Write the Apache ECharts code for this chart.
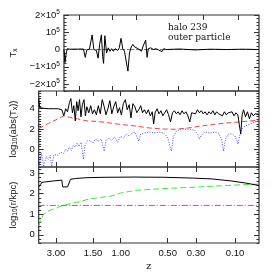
<!DOCTYPE html>
<html><head><meta charset="utf-8">
<script src="https://cdn.jsdelivr.net/npm/echarts@6/dist/echarts.min.js"></script>
<style>html,body{margin:0;padding:0;background:#fff}#c{width:274px;height:274px}</style>
</head><body><div id="c"></div><script>
// x values: cosmic time (Gyr); tick labels in redshift z
const zTickLabels = ['3.00','1.50','1.00','0.50','0.30','0.10'];
const zTickTimes = [2.11, 4.20, 5.76, 8.41, 10.01, 12.21];

// Top panel: T_x
const txBlack = [[1.14,0],[1.20,-0.75e5],[1.28,-0.2e5],[1.35,0.05e5],[1.5,0.02e5],[2.38,0.03e5],[2.49,-0.45e5],[2.60,0],[2.76,0.02e5],[2.93,0.85e5],[3.04,0],[3.20,-0.05e5],[3.31,-0.5e5],[3.41,0.3e5],[3.52,0.85e5],[3.60,-0.4e5],[3.66,-0.8e5],[3.74,0.8e5],[3.85,-0.2e5],[3.96,0.1e5],[4.07,-0.1e5],[4.17,0.05e5],[4.28,-0.1e5],[4.39,0.05e5],[4.55,-0.05e5],[4.66,0.1e5],[4.77,0.65e5],[4.88,0.05e5],[4.99,-0.1e5],[5.10,0],[5.21,-1.25e5],[5.31,-0.2e5],[5.42,0.15e5],[5.53,0.3e5],[5.64,0.15e5],[5.75,0.25e5],[5.86,0.05e5],[5.97,0.15e5],[6.07,-0.1e5],[6.18,0.2e5],[6.29,0.1e5],[6.34,0.55e5],[6.43,-0.45e5],[6.51,0.05e5],[6.67,0.1e5],[6.83,0],[6.99,0.05e5],[7.16,-0.02e5],[7.27,0.08e5],[7.38,-0.12e5],[7.49,0.05e5],[7.65,0],[8.5,0.03e5],[9.5,-0.02e5],[10.5,0.02e5],[11.5,0],[12.5,0.02e5],[13.56,0]];
const txRed = [[1.14,0],[13.56,0]];
const txBlue = [[1.14,0],[13.56,0]];

// Middle panel: log10(abs(T_x))
const logTxBlack = [[1.14,5.0],[1.19,4.1],[1.41,4.05],[1.68,4.0],[1.95,4.0],[2.22,4.0],[2.44,3.9],[2.55,3.3],[2.66,4.0],[2.76,3.7],[2.87,4.6],[2.95,5.0],[3.04,3.6],[3.12,4.3],[3.20,2.8],[3.28,4.7],[3.36,3.8],[3.44,4.9],[3.52,3.2],[3.60,4.4],[3.69,4.9],[3.77,3.3],[3.85,4.2],[3.96,3.6],[4.07,4.3],[4.17,3.5],[4.28,3.9],[4.39,3.4],[4.50,4.3],[4.61,3.5],[4.72,4.9],[4.83,4.2],[4.93,3.4],[5.04,4.0],[5.15,4.8],[5.26,3.5],[5.37,4.2],[5.48,4.7],[5.59,3.6],[5.69,4.1],[5.80,3.4],[5.91,4.5],[6.02,4.9],[6.13,3.9],[6.24,4.4],[6.34,3.1],[6.45,4.5],[6.56,4.2],[6.67,3.6],[6.78,3.9],[6.89,4.3],[6.99,3.6],[7.10,3.9],[7.21,3.5],[7.32,3.9],[7.43,3.3],[7.54,3.7],[7.62,2.5],[7.70,3.6],[7.81,4.0],[7.92,3.5],[8.03,3.8],[8.14,3.3],[8.24,3.6],[8.35,3.9],[8.46,3.4],[8.57,2.7],[8.68,3.6],[8.79,3.8],[8.90,3.5],[9.00,3.7],[9.11,3.4],[9.22,3.8],[9.33,3.5],[9.44,3.7],[9.55,3.3],[9.66,2.7],[9.76,3.6],[9.87,3.7],[9.98,3.5],[10.09,3.9],[10.20,3.6],[10.31,3.8],[10.41,3.5],[10.52,3.7],[10.63,3.4],[10.74,3.7],[10.85,3.5],[10.96,3.8],[11.07,3.4],[11.17,3.7],[11.28,3.5],[11.39,3.6],[11.50,3.3],[11.61,3.7],[11.72,3.4],[11.83,3.6],[11.94,3.5],[12.04,3.7],[12.15,3.3],[12.26,3.6],[12.37,3.4],[12.45,2.4],[12.53,1.5],[12.61,3.4],[12.69,3.9],[12.80,3.2],[12.91,3.7],[13.02,3.0],[13.13,3.6],[13.24,3.3],[13.34,3.5],[13.45,3.4],[13.56,3.45]];
const logTxRed = [[1.14,2.05],[1.68,2.55],[2.22,3.0],[2.55,3.3],[2.87,3.15],[3.31,3.0],[3.85,2.8],[4.39,2.75],[4.93,2.65],[5.75,2.45],[6.56,2.3],[7.38,2.1],[8.19,2.0],[8.84,1.97],[9.55,2.1],[10.36,2.3],[11.17,2.5],[11.99,2.63],[12.80,2.75],[13.56,2.87]];
const logTxBlue = [[1.14,-1.7],[1.25,-0.9],[1.30,-0.4],[1.41,-1.7],[1.57,-0.7],[1.68,-1.0],[1.79,-0.6],[1.87,-1.7],[2.00,-0.5],[2.22,-0.6],[2.38,-0.3],[2.55,-0.4],[2.66,0.0],[2.76,-0.2],[2.87,0.2],[2.98,-0.1],[3.09,0.4],[3.20,0.2],[3.31,0.6],[3.41,0.3],[3.52,0.7],[3.60,-0.2],[3.66,-1.0],[3.74,0.3],[3.85,0.8],[4.01,0.9],[4.17,0.6],[4.34,1.0],[4.50,0.8],[4.66,1.0],[4.83,-0.2],[4.93,0.9],[5.10,1.1],[5.26,0.9],[5.42,1.2],[5.59,0.7],[5.75,1.3],[5.91,1.1],[6.07,1.5],[6.24,1.3],[6.40,1.6],[6.56,1.7],[6.67,1.8],[6.78,0.8],[6.89,1.5],[7.10,1.6],[7.38,1.7],[7.65,1.6],[7.92,1.7],[8.19,1.6],[8.40,1.2],[8.51,0.5],[8.62,-0.2],[8.73,1.2],[8.90,1.8],[9.17,2.0],[9.55,2.0],[9.93,1.9],[10.09,1.5],[10.20,1.0],[10.31,1.4],[10.52,1.7],[10.79,1.6],[11.07,1.7],[11.28,1.6],[11.45,1.0],[11.56,-0.2],[11.67,1.0],[11.83,1.5],[12.04,1.5],[12.20,1.3],[12.31,0.9],[12.37,0.5],[12.45,1.2],[12.58,2.0],[12.80,2.3],[13.07,2.5],[13.34,2.7],[13.56,2.85]];

// Bottom panel: log10(r/kpc)
const logRBlack = [[1.14,2.33],[1.25,2.45],[1.30,2.55],[1.41,2.58],[1.95,2.62],[2.44,2.66],[2.49,2.33],[2.76,2.33],[2.87,2.35],[2.93,2.7],[3.20,2.74],[3.85,2.78],[4.93,2.8],[6.56,2.81],[8.19,2.8],[9.82,2.76],[10.90,2.72],[11.99,2.62],[12.80,2.52],[13.56,2.4]];
const logRGreen = [[1.14,0.44],[1.25,0.7],[1.41,1.0],[1.57,1.1],[1.79,1.2],[2.06,1.27],[2.49,1.43],[2.93,1.51],[3.47,1.62],[4.01,1.75],[4.66,1.82],[5.31,1.9],[5.75,2.03],[6.56,2.16],[8.19,2.25],[10.20,2.33],[11.99,2.41],[13.56,2.47]];
const logRMagenta = [[1.14,1.43],[13.56,1.43]];

const topTicks = [-2e5,-1e5,0,1e5,2e5];
const topTickLabels = ['−2×10{sup|5}','−1×10{sup|5}','0','10{sup|5}','2×10{sup|5}'];
const midTicks = [0,2,4];
const botTicks = [0,1,2,3];

const FONT = 'Liberation Sans';
const TXT = '#111';
const FRAME = '#333';
const XMIN = 1.136, XMAX = 13.56;

const grids = [15, 91, 167].map(t => ({left:30, right:15, top:t, height:76, show:true, borderColor:FRAME, borderWidth:1.2, backgroundColor:'transparent'}));

const xAxis = [];
[0,1,2].forEach(g => {
  ['bottom','top'].forEach(pos => {
    const isLab = (g===2 && pos==='bottom');
    xAxis.push({
      gridIndex:g, type:'value', min:XMIN, max:XMAX, position:pos,
      axisLine:{show:false, onZero:false}, splitLine:{show:false},
      axisTick:{show:true, inside:true, length:5, customValues:zTickTimes, lineStyle:{color:FRAME, width:1}},
      axisLabel:{show:isLab, customValues:zTickTimes, margin:5, fontFamily:FONT, fontSize:9.5, color:TXT,
        formatter:v => { const i = zTickTimes.findIndex(t => Math.abs(t-v)<1e-6); return i>=0 ? zTickLabels[i] : ''; }},
      name: isLab ? 'z' : '', nameLocation:'middle', nameGap:19,
      nameTextStyle:{fontFamily:'DejaVu Serif', fontSize:9.5, color:TXT}
    });
  });
});

const richSub = {sub:{fontSize:6.5, fontFamily:FONT, color:TXT, padding:[4,0,0,0]}, sup:{fontSize:6.5, fontFamily:FONT, color:TXT, padding:[0,0,5,0]}};
const panels = [
  {min:-2.4e5, max:2e5, minor:2e4, majors:topTicks, fmt:v => { const i = topTicks.indexOf(v); return i>=0 ? topTickLabels[i] : ''; }, name:'T{sub|x}', gap:26},
  {min:-1.75, max:5.75, minor:0.25, majors:midTicks, fmt:v => String(v), name:'log{sub|10}(abs(T{sub|x}))', gap:17},
  {min:-0.4, max:3.3, minor:0.2, majors:botTicks, fmt:v => String(v), name:'log{sub|10}(r/kpc)', gap:17}
];
const yAxis = [];
panels.forEach((p,g) => {
  ['left','right'].forEach(pos => {
    yAxis.push({
      gridIndex:g, type:'value', min:p.min, max:p.max, position:pos,
      axisLine:{show:false, onZero:false}, splitLine:{show:false},
      axisTick:{show:true, inside:true, length:5, customValues:p.majors, lineStyle:{color:FRAME, width:1}},
      axisLabel:{show:pos==='left', customValues:p.majors, formatter:p.fmt, margin:4, fontFamily:FONT, fontSize:9.5, color:TXT, rich:richSub},
      name: pos==='left' ? p.name : '', nameLocation:'middle', nameGap:p.gap, nameRotate:90,
      nameTextStyle:{fontFamily:FONT, fontSize:9.5, color:TXT, rich:richSub}
    });
    yAxis.push({
      gridIndex:g, type:'value', min:p.min, max:p.max, interval:p.minor, position:pos,
      axisLine:{show:false, onZero:false}, splitLine:{show:false},
      axisTick:{show:true, inside:true, length:2.5, lineStyle:{color:FRAME, width:1}},
      axisLabel:{show:false}
    });
  });
});

function line(data, g, color, type, width) {
  return {type:'line', data:data, xAxisIndex:2*g, yAxisIndex:4*g, showSymbol:false, symbol:'none',
    lineStyle:{color:color, type:type, width:width||1}, clip:true, animation:false, silent:true};
}

const series = [
  line(txBlue, 0, '#4a4aff', [1,2]),
  line(txRed, 0, '#ff3b3b', [5,3]),
  line(txBlack, 0, '#000', 'solid'),
  line(logTxBlue, 1, '#4a4aff', [1,1.5]),
  line(logTxRed, 1, '#ff3b3b', [5,3]),
  line(logTxBlack, 1, '#000', 'solid'),
  line(logRMagenta, 2, '#ff22ff', [6,2,1,2]),
  line(logRGreen, 2, '#33ee33', [6,3]),
  line(logRBlack, 2, '#000', 'solid')
];

const chart = echarts.init(document.getElementById('c'), null, {renderer:'canvas'});
chart.setOption({
  animation:false,
  backgroundColor:'#fff',
  grid:grids, xAxis:xAxis, yAxis:yAxis, series:series,
  graphic:[
    {type:'text', left:168, top:23, style:{text:'halo 239', fontFamily:'DejaVu Serif', fontSize:9, fill:TXT}},
    {type:'text', left:168, top:33, style:{text:'outer particle', fontFamily:'DejaVu Serif', fontSize:9, fill:TXT}}
  ]
});
</script></body></html>
